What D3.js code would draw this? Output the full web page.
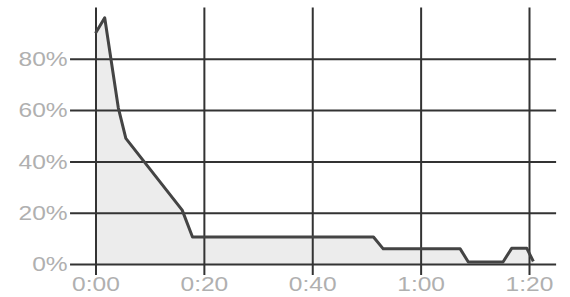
<!DOCTYPE html>
<html>
<head>
<meta charset="utf-8">
<script src="https://cdn.jsdelivr.net/npm/d3@7"></script>
<style>
  html, body { margin: 0; padding: 0; background: #fff; }
  svg { display: block; }
</style>
</head>
<body>
<div id="chart"></div>
<script>
// elapsed time in seconds and share remaining in percent
const seconds = [0, 1.7, 4.2, 5.6, 16, 17.9, 51.3, 53.1, 67.3, 68.8, 75.2, 76.8, 79.6, 80.8];
const percent = [90, 96, 61, 49, 21, 10.5, 10.5, 5.9, 5.9, 0.8, 0.8, 6.1, 6.1, 1];
const xTicks = [0, 20, 40, 60, 80];
const xTickLabels = ["0:00", "0:20", "0:40", "1:00", "1:20"];
const yTicks = [0, 20, 40, 60, 80];

const width = 570;
const height = 297;

const data = seconds.map((s, i) => ({ s, v: percent[i] }));

const x = d3.scaleLinear().domain([0, 80]).range([95.5, 529]);
const y = d3.scaleLinear().domain([0, 100]).range([264, 7.5]);

const svg = d3.select("#chart").append("svg")
  .attr("width", width)
  .attr("height", height)
  .style("background", "white");

// shaded area under the line
const area = d3.area()
  .x(d => x(d.s))
  .y0(y(0))
  .y1(d => y(d.v));

svg.append("path")
  .datum(data)
  .attr("d", area)
  .attr("fill", "#ececec");

// horizontal grid + y labels
const gridLeft = x(-4.7);
const gridRight = x(85);
const yAxis = svg.append("g")
  .attr("transform", `translate(${gridLeft},0)`)
  .call(d3.axisLeft(y)
    .tickValues(yTicks)
    .tickFormat(d => d + "%")
    .tickSize(-(gridRight - gridLeft))
    .tickPadding(2));

// vertical grid + x labels
const gridBottom = 275;
const xAxis = svg.append("g")
  .attr("transform", `translate(0,${gridBottom})`)
  .call(d3.axisBottom(x)
    .tickValues(xTicks)
    .tickFormat((d, i) => xTickLabels[i])
    .tickSize(-(gridBottom - y(100)))
    .tickPadding(1));

[yAxis, xAxis].forEach(g => {
  g.select(".domain").remove();
  g.selectAll(".tick line")
    .attr("stroke", "#333")
    .attr("stroke-width", 2);
  g.selectAll(".tick text")
    .attr("fill", "#b0b0b0")
    .attr("font-family", "Liberation Sans, Arial, sans-serif")
    .attr("font-size", 21)
    .attr("transform", "scale(1.17,1)");
});

// the line itself
const line = d3.line()
  .x(d => x(d.s))
  .y(d => y(d.v));

svg.append("path")
  .datum(data)
  .attr("d", line)
  .attr("fill", "none")
  .attr("stroke", "#444")
  .attr("stroke-width", 3)
  .attr("stroke-linejoin", "round");
</script>
</body>
</html>
